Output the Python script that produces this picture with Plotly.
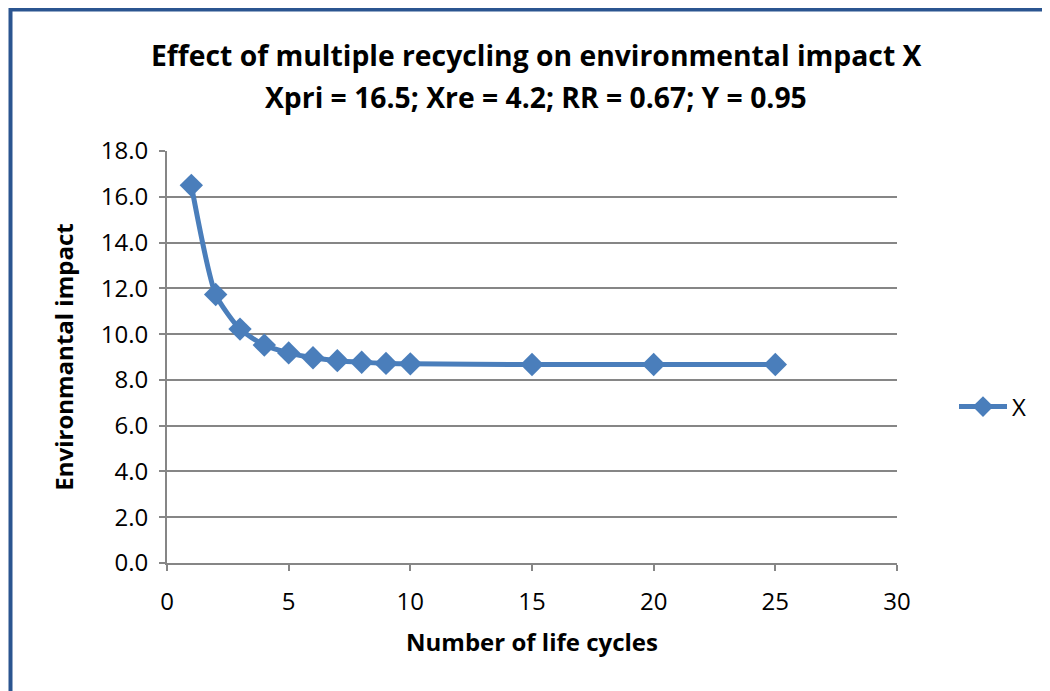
import plotly.graph_objects as go

cycles = [1, 2, 3, 4, 5, 6, 7, 8, 9, 10, 15, 20, 25]
impact = [16.5, 11.73, 10.22, 9.52, 9.18, 8.97, 8.84, 8.77, 8.72, 8.70, 8.67, 8.67, 8.67]
series_name = "X"
title_lines = ["Effect of multiple recycling on environmental impact X",
               "Xpri = 16.5; Xre = 4.2; RR = 0.67; Y = 0.95"]
x_title = "Number of life cycles"
y_title = "Environmantal impact"
x_ticks = [0, 5, 10, 15, 20, 25, 30]
y_ticks = [0, 2, 4, 6, 8, 10, 12, 14, 16, 18]

# page offset of the figure (body margin)
OFF = 8
W, H = 1042, 683
L, R, T, B = 167 - OFF, 153, 151 - OFF, 128
blue = "#4a7ebb"
gray = "#868686"
border = "#2b5590"
font = "Open Sans"

fig = go.Figure()
fig.add_trace(go.Scatter(
    x=cycles, y=impact, name=series_name, mode="lines+markers",
    line=dict(color=blue, width=5, shape="spline", smoothing=0.6),
    marker=dict(symbol="diamond", size=18, color=blue),
    showlegend=True,
))

pw = W - L - R
ph = H - T - B
def px(x):  # page pixel -> paper
    return (x - OFF - L) / pw
def py(y):
    return (OFF + H - B - y) / ph

annotations = [
    dict(text="<b>" + title_lines[0] + "</b>", xref="paper", yref="paper",
         x=px(536), y=py(55), xanchor="center", yanchor="middle", showarrow=False,
         font=dict(family=font, size=28.3, color="black")),
    dict(text="<b>" + title_lines[1] + "</b>", xref="paper", yref="paper",
         x=px(536), y=py(97), xanchor="center", yanchor="middle", showarrow=False,
         font=dict(family=font, size=28.3, color="black")),
]

fig.update_layout(
    width=W, height=H,
    margin=dict(l=L, r=R, t=T, b=B),
    paper_bgcolor="white", plot_bgcolor="white",
    font=dict(family=font, color="black", size=24),
    annotations=annotations,
    legend=dict(x=px(954), y=py(407), xanchor="left", yanchor="middle",
                itemwidth=48,
                font=dict(size=24, family=font), bgcolor="rgba(0,0,0,0)"),
    shapes=[
        dict(type="line", xref="paper", yref="paper", x0=px(10.5), x1=px(1060),
             y0=py(9.5), y1=py(9.5), line=dict(color=border, width=4)),
        dict(type="line", xref="paper", yref="paper", x0=px(10.5), x1=px(10.5),
             y0=py(7.5), y1=py(700), line=dict(color=border, width=4)),
    ],
)
fig.update_xaxes(
    range=[0, 30], tickvals=x_ticks, ticktext=[str(v) for v in x_ticks],
    showgrid=False, zeroline=False, showline=True, linecolor=gray, linewidth=2,
    ticks="outside", ticklen=6, tickcolor=gray, tickwidth=2,
    tickfont=dict(size=24, family=font), ticklabelstandoff=10,
    title=dict(text="<b>" + x_title + "</b>", font=dict(size=24, family=font), standoff=18),
)
fig.update_yaxes(
    range=[0, 18], tickvals=y_ticks, ticktext=["%.1f" % v for v in y_ticks],
    showgrid=True, gridcolor=gray, gridwidth=1.5, zeroline=False,
    showline=True, linecolor=gray, linewidth=2,
    ticks="outside", ticklen=6, tickcolor=gray, tickwidth=2,
    tickfont=dict(size=24, family=font), ticklabelstandoff=6,
    title=dict(text="<b>" + y_title + "</b>", font=dict(size=24, family=font), standoff=20),
)

fig.write_html("out.html")
